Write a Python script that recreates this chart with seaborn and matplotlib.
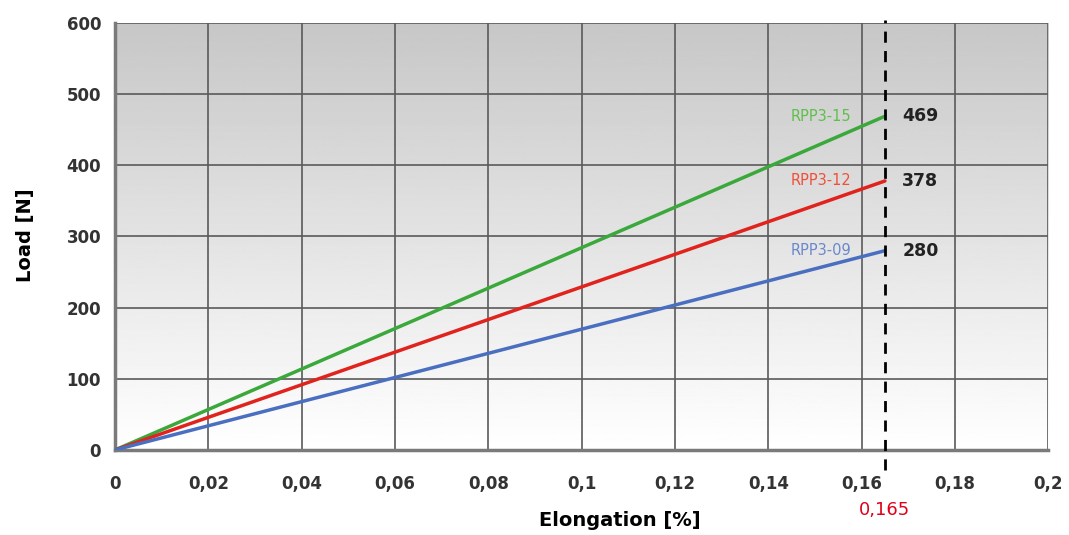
import numpy as np
import pandas as pd
import matplotlib
matplotlib.use("Agg")
import matplotlib.pyplot as plt
import seaborn as sns
from matplotlib.ticker import FuncFormatter, MultipleLocator

# data
series = ["RPP3-15", "RPP3-12", "RPP3-09"]
elongation = [0, 0.165]
load_15 = [0, 469]
load_12 = [0, 378]
load_09 = [0, 280]
colors = ["#3aa83a", "#e0231c", "#4a6fc0"]
label_colors = ["#5fbf4a", "#f0503a", "#6a88cc"]
cut_x = 0.165

rows = []
for name, loads in zip(series, [load_15, load_12, load_09]):
    for x, y in zip(elongation, loads):
        rows.append({"series": name, "elongation": x, "load": y})
df = pd.DataFrame(rows)

sns.set_style("white")
plt.rcParams['font.family'] = ['DejaVu Sans']

fig = plt.figure(figsize=(10.69, 5.35), dpi=100)
ax = fig.add_axes([0.1076, 0.159, 0.873, 0.798])

# grey (top) to white (bottom) background gradient
grad = np.linspace(0.78, 1.0, 256).reshape(-1, 1)
ax.imshow(grad, cmap="gray", vmin=0, vmax=1, aspect="auto",
          extent=[0, 0.2, 0, 600], zorder=0)

sns.lineplot(data=df, x="elongation", y="load", hue="series",
             palette=dict(zip(series, colors)), linewidth=2.5,
             legend=False, ax=ax, zorder=3)

ax.set_xlim(0, 0.2)
ax.set_ylim(0, 600)
ax.xaxis.set_major_locator(MultipleLocator(0.02))
ax.yaxis.set_major_locator(MultipleLocator(100))
ax.xaxis.set_major_formatter(FuncFormatter(lambda v, p: ("%g" % round(v, 3)).replace(".", ",")))
ax.grid(True, color="#5a5a5a", linewidth=1.2, zorder=1)
ax.set_axisbelow(True)

for s in ["top", "right"]:
    ax.spines[s].set_visible(False)
for s in ["left", "bottom"]:
    ax.spines[s].set_color("#7a7a7a")
    ax.spines[s].set_linewidth(2.5)

ax.tick_params(axis="both", labelsize=12, colors="#333333", length=0)
ax.tick_params(axis="x", pad=18)
ax.tick_params(axis="y", pad=10)
for lbl in ax.get_xticklabels() + ax.get_yticklabels():
    lbl.set_fontweight("bold")

ax.set_xlabel("")
ax.set_ylabel("")
fig.text(620 / 1069, 1 - 520 / 535, "Elongation [%]", fontsize=14, fontweight="bold",
         color="black", ha="center", va="center")
fig.text(25 / 1069, 1 - 235 / 535, "Load [N]", fontsize=14, fontweight="bold",
         color="black", ha="center", va="center", rotation=90)

# dashed cut line at 0.165
ax.axvline(cut_x, ymin=-0.047, ymax=1.007, color="black", linestyle=(0, (4, 3)),
           linewidth=2, clip_on=False, zorder=4)
ax.text(cut_x, -85, "0,165", color="#e0001a", fontsize=13, ha="center", va="center")

for name, loads, lc in zip(series, [load_15, load_12, load_09], label_colors):
    end = loads[-1]
    ax.text(0.1578, end, name, color=lc, fontsize=10.5, ha="right", va="center")
    ax.text(0.1726, end, str(end), color="#222222", fontsize=12.5, fontweight="bold",
            ha="center", va="center")

plt.savefig("out.png", dpi=100)
